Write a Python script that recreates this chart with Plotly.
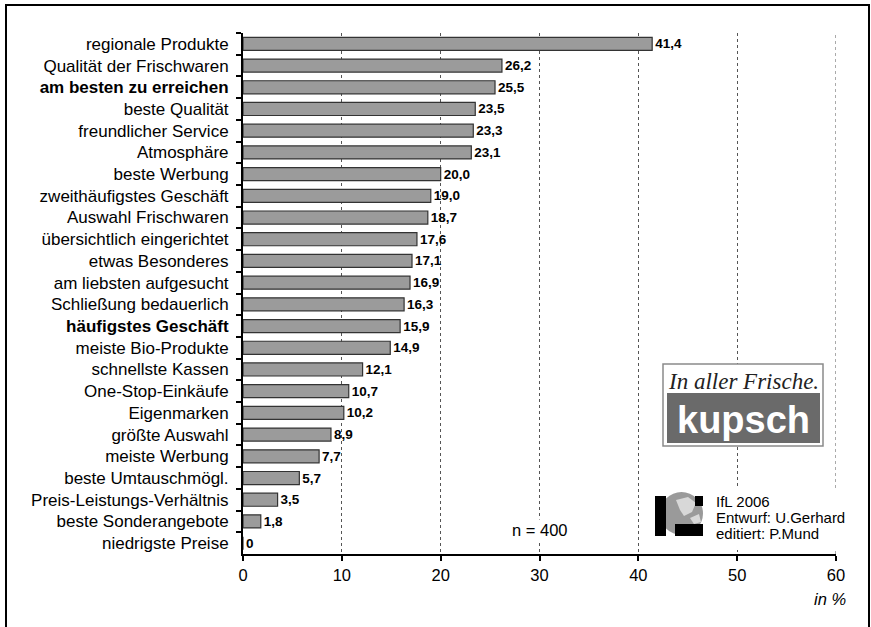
import plotly.graph_objects as go

# Survey answers: share of respondents (in %) naming the store for each attribute
categories = [
    "regionale Produkte", "Qualität der Frischwaren", "am besten zu erreichen",
    "beste Qualität", "freundlicher Service", "Atmosphäre", "beste Werbung",
    "zweithäufigstes Geschäft", "Auswahl Frischwaren", "übersichtlich eingerichtet",
    "etwas Besonderes", "am liebsten aufgesucht", "Schließung bedauerlich",
    "häufigstes Geschäft", "meiste Bio-Produkte", "schnellste Kassen",
    "One-Stop-Einkäufe", "Eigenmarken", "größte Auswahl", "meiste Werbung",
    "beste Umtauschmögl.", "Preis-Leistungs-Verhältnis", "beste Sonderangebote",
    "niedrigste Preise",
]
values = [41.4, 26.2, 25.5, 23.5, 23.3, 23.1, 20.0, 19.0, 18.7, 17.6, 17.1, 16.9,
          16.3, 15.9, 14.9, 12.1, 10.7, 10.2, 8.9, 7.7, 5.7, 3.5, 1.8, 0]
bold_categories = ["am besten zu erreichen", "häufigstes Geschäft"]
x_ticks = [0, 10, 20, 30, 40, 50, 60]

FONT = "Liberation Sans, Arial, Helvetica, sans-serif"
SERIF = "Liberation Serif, Times New Roman, serif"

y_labels = [f"<b>{c}</b>" if c in bold_categories else c for c in categories]
value_labels = ["0" if v == 0 else f"{v:.1f}".replace(".", ",") for v in values]

W, H = 871, 627
PL, PR, PT, PB = 243, 836, 33, 554


def px(x):
    return (x - PL) / (PR - PL)


def py(y):
    return (PB - y) / (PB - PT)


fig = go.Figure(
    go.Bar(
        x=values,
        y=y_labels,
        orientation="h",
        width=0.6,
        marker=dict(color="#9b9b9b", line=dict(color="#333333", width=1.2)),
        text=value_labels,
        textposition="outside",
        textfont=dict(family=FONT, size=13.5, color="black", weight="bold"),
        constraintext="none",
        cliponaxis=False,
        hoverinfo="skip",
    )
)

fig.update_layout(
    width=W,
    height=H,
    margin=dict(l=PL, r=W - PR, t=PT, b=H - PB),
    paper_bgcolor="white",
    plot_bgcolor="white",
    showlegend=False,
    font=dict(family=FONT, color="black"),
)

fig.update_xaxes(
    range=[0, 60],
    tickmode="array",
    tickvals=x_ticks,
    ticktext=[str(t) for t in x_ticks],
    ticks="outside",
    ticklen=5,
    tickwidth=1.5,
    tickcolor="black",
    showline=True,
    linecolor="black",
    linewidth=2,
    showgrid=True,
    gridcolor="#555555",
    griddash="dot",
    gridwidth=1,
    zeroline=False,
    tickfont=dict(size=16.5, color="black"),
)

fig.update_yaxes(
    type="category",
    categoryorder="array",
    categoryarray=y_labels,
    autorange="reversed",
    tickson="boundaries",
    ticks="outside",
    ticklen=5,
    tickwidth=2,
    tickcolor="black",
    showline=True,
    linecolor="black",
    linewidth=2,
    showgrid=False,
    ticklabelstandoff=9,
    tickfont=dict(size=17, color="black"),
)

shapes = [
    # gridline at the right end of the value axis
    dict(type="line", xref="x", yref="paper", x0=x_ticks[-1], x1=x_ticks[-1],
         y0=0, y1=1, line=dict(color="#555555", width=1, dash="dot"), layer="below"),
    # outer frame
    dict(type="rect", xref="paper", yref="paper", x0=px(6), x1=px(869),
         y0=py(632), y1=py(5), line=dict(color="black", width=2), layer="above"),
    # white backing behind the publisher block
    dict(type="rect", xref="paper", yref="paper", x0=px(648), x1=px(852),
         y0=py(550), y1=py(488), fillcolor="white", line=dict(width=0), layer="above"),
    # "In aller Frische." badge
    dict(type="rect", xref="paper", yref="paper", x0=px(663), x1=px(823),
         y0=py(446), y1=py(364), fillcolor="white",
         line=dict(color="#8a8a8a", width=1.5), layer="above"),
    dict(type="rect", xref="paper", yref="paper", x0=px(667), x1=px(820),
         y0=py(443), y1=py(393), fillcolor="#6a6a6a", line=dict(width=0), layer="above"),
    # IfL globe icon
    dict(type="circle", xref="paper", yref="paper", x0=px(660), x1=px(703),
         y0=py(535), y1=py(492), fillcolor="#9a9a9a", line=dict(width=0), layer="above"),
    dict(type="path", xref="paper", yref="paper",
         path=f"M {px(676)},{py(500)} L {px(688)},{py(497)} L {px(696)},{py(503)} "
              f"L {px(692)},{py(512)} L {px(684)},{py(516)} L {px(680)},{py(510)} Z",
         fillcolor="#d8d8d8", line=dict(width=0), layer="above"),
    dict(type="path", xref="paper", yref="paper",
         path=f"M {px(690)},{py(518)} L {px(699)},{py(514)} L {px(701)},{py(522)} "
              f"L {px(694)},{py(524)} Z",
         fillcolor="#d8d8d8", line=dict(width=0), layer="above"),
    dict(type="rect", xref="paper", yref="paper", x0=px(655), x1=px(666),
         y0=py(536), y1=py(496), fillcolor="black", line=dict(width=0), layer="above"),
    dict(type="rect", xref="paper", yref="paper", x0=px(675), x1=px(703),
         y0=py(536), y1=py(524), fillcolor="black", line=dict(width=0), layer="above"),
    dict(type="rect", xref="paper", yref="paper", x0=px(695), x1=px(703),
         y0=py(506), y1=py(496), fillcolor="black", line=dict(width=0), layer="above"),
]
fig.update_layout(shapes=shapes)

annotations = [
    dict(text="In aller Frische.", xref="paper", yref="paper", x=px(743), y=py(381),
         xanchor="center", yanchor="middle", showarrow=False,
         font=dict(family=SERIF, size=23, color="#222222", style="italic")),
    dict(text="<b>kupsch</b>", xref="paper", yref="paper", x=px(743), y=py(420),
         xanchor="center", yanchor="middle", showarrow=False,
         font=dict(family=FONT, size=38, color="white")),
    dict(text="IfL 2006", xref="paper", yref="paper", x=px(714), y=py(501),
         xanchor="left", yanchor="middle", showarrow=False,
         font=dict(size=15, color="black")),
    dict(text="Entwurf: U.Gerhard", xref="paper", yref="paper", x=px(714), y=py(517),
         xanchor="left", yanchor="middle", showarrow=False,
         font=dict(size=15, color="black")),
    dict(text="editiert: P.Mund", xref="paper", yref="paper", x=px(714), y=py(533),
         xanchor="left", yanchor="middle", showarrow=False,
         font=dict(size=15, color="black")),
    dict(text="n = 400", xref="x", yref="paper", x=30, y=py(530),
         xanchor="center", yanchor="middle", showarrow=False, bgcolor="white",
         font=dict(size=16.5, color="black")),
    dict(text="in %", xref="paper", yref="paper", x=px(848), y=py(599),
         xanchor="right", yanchor="middle", showarrow=False,
         font=dict(size=16.5, color="black", style="italic")),
]
fig.update_layout(annotations=annotations)

fig.write_html("out.html")
